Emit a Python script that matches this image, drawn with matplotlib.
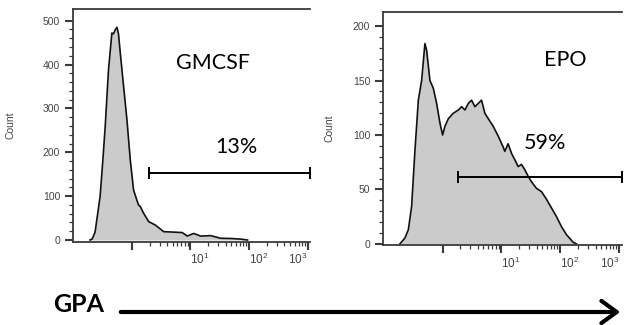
import numpy as np
import matplotlib.pyplot as plt
from matplotlib.patches import FancyArrowPatch
from matplotlib.ticker import FixedLocator, FixedFormatter, NullFormatter

plt.rcParams['font.family'] = ['Liberation Sans', 'DejaVu Sans']
plt.rcParams['mathtext.fontset'] = 'custom'
plt.rcParams['mathtext.rm'] = 'Liberation Sans'
plt.rcParams['mathtext.default'] = 'regular'

# GMCSF histogram (GPA fluorescence, count)
gm_x = [0.141, 0.162, 0.193, 0.252, 0.292, 0.322, 0.374, 0.434, 0.464, 0.500,
        0.538, 0.574, 0.618, 0.690, 0.812, 0.928, 1.06, 1.18, 1.29, 1.39,
        1.58, 1.93, 2.52, 3.50, 5.19, 7.23, 8.81, 11.4, 14.9, 22.1,
        32.8, 48.8, 72.3, 94.2]
gm_count = [0, 2, 18, 99, 190, 259, 388, 472, 470, 479,
            485, 470, 427, 365, 274, 183, 114, 95, 80, 76,
            61, 42, 34, 19, 18, 17, 9, 15, 9, 10,
            4, 3.5, 2, 0]

# EPO histogram
epo_x = [0.139, 0.190, 0.228, 0.269, 0.315, 0.367, 0.424, 0.488, 0.524, 0.602,
         0.690, 0.790, 0.902, 1.004, 1.10, 1.26, 1.53, 1.87, 2.13, 2.42,
         2.76, 3.14, 3.58, 4.07, 4.64, 5.28, 6.03, 7.31, 8.89, 10.8,
         11.5, 13.1, 15.0, 17.1, 19.4, 22.1, 25.2, 28.7, 32.7, 39.7,
         48.3, 58.6, 71.3, 86.7, 105, 128, 166, 189]
epo_count = [0, 5.5, 13, 34.5, 86, 132, 150, 184, 178, 150,
             143, 129, 111, 100, 108, 115, 120, 123, 126, 123,
             129, 132, 126, 129, 132, 120, 115, 108, 99, 89,
             85, 92, 83, 77, 71, 73, 68, 62, 57, 51,
             48, 41, 33, 25, 16, 8.5, 1.5, 0]

panel_names = ['GMCSF', 'EPO']
gate_pct = ['13%', '59%']
gate_lo = [1.99, 1.87]
gate_y = [153, 61.7]
y_ticks = [[0, 100, 200, 300, 400, 500], [0, 50, 100, 150, 200]]
y_minor_step = [20, 10]
y_lims = [(-3.4, 526.7), (-1.0, 213.0)]

x_major = [1, 10, 100, 1000]
x_labels = ['', '$10^{1}$', '$10^{2}$', '$10^{3}$']
x_label_ha = ['center', 'left', 'left', 'right']
x_minor = [m * d for d in [1, 10, 100] for m in range(2, 10)]
x_max = 1100

fig = plt.figure(figsize=(6.28, 3.25), dpi=100)
axes = [fig.add_axes([0.1167, 0.2569, 0.377, 0.7154]),
        fig.add_axes([0.6104, 0.2462, 0.3793, 0.7169])]

spine_col = '#3a3a3a'
label_col = '#454545'
data = [(gm_x, gm_count), (epo_x, epo_count)]
name_pos = [(0.59, 0.768), (0.763, 0.794)]
pct_pos = [(0.69, 0.406), (0.679, 0.438)]
count_x = [-0.242, -0.207]

for i, ax in enumerate(axes):
    xs, cs = data[i]
    ax.set_xscale('asinh', linear_width=0.2)
    ax.fill_between(xs, cs, 0, color='#cbcbcb', lw=0)
    ax.plot(xs, cs, color='#111111', lw=1.2)

    ax.set_xlim(0, x_max)
    ax.set_ylim(*y_lims[i])

    ax.xaxis.set_major_locator(FixedLocator(x_major))
    ax.xaxis.set_major_formatter(FixedFormatter(x_labels))
    ax.xaxis.set_minor_locator(FixedLocator(x_minor))
    ax.xaxis.set_minor_formatter(NullFormatter())
    ax.yaxis.set_major_locator(FixedLocator(y_ticks[i]))
    ax.yaxis.set_minor_locator(FixedLocator(
        np.arange(0, y_ticks[i][-1] + 1, y_minor_step[i])))

    ax.tick_params(axis='both', which='major', length=5.5, width=1.5,
                   color=spine_col, labelcolor=label_col)
    ax.tick_params(axis='y', which='major', labelsize=7.5, pad=4)
    ax.tick_params(axis='x', which='major', labelsize=8.5, pad=2)
    ax.tick_params(axis='both', which='minor', length=3, width=0.9,
                   color=spine_col)
    for lab, ha in zip(ax.get_xticklabels(), x_label_ha):
        lab.set_ha(ha)

    for s in ['left', 'bottom', 'top']:
        ax.spines[s].set_color(spine_col)
        ax.spines[s].set_linewidth(1.3)
    ax.spines['right'].set_visible(False)

    ax.set_ylabel('Count', fontsize=7.5, color=label_col)
    ax.yaxis.set_label_coords(count_x[i], 0.5)

    # gate bar
    ax.plot([gate_lo[i], x_max], [gate_y[i], gate_y[i]], color='black',
            lw=1.4, marker='|', markersize=9, markeredgewidth=1.4,
            clip_on=False)

    ax.text(*name_pos[i], panel_names[i], transform=ax.transAxes,
            ha='center', va='center', fontsize=15.5, family=['Lato', 'DejaVu Sans'])
    ax.text(*pct_pos[i], gate_pct[i], transform=ax.transAxes,
            ha='center', va='center', fontsize=15.5, family=['Lato', 'DejaVu Sans'])

# GPA axis arrow
fig.text(0.125, 1 - 304 / 325, 'GPA', ha='center', va='center',
         fontsize=18, fontweight='bold', family=['Lato', 'DejaVu Sans'])
fig.add_artist(FancyArrowPatch(
    (118 / 628, 1 - 312 / 325), (623 / 628, 1 - 312 / 325),
    transform=fig.transFigure, arrowstyle='->,head_length=0.55,head_width=0.4',
    mutation_scale=20, lw=3, color='black'))

fig.savefig('out.png', dpi=100)
